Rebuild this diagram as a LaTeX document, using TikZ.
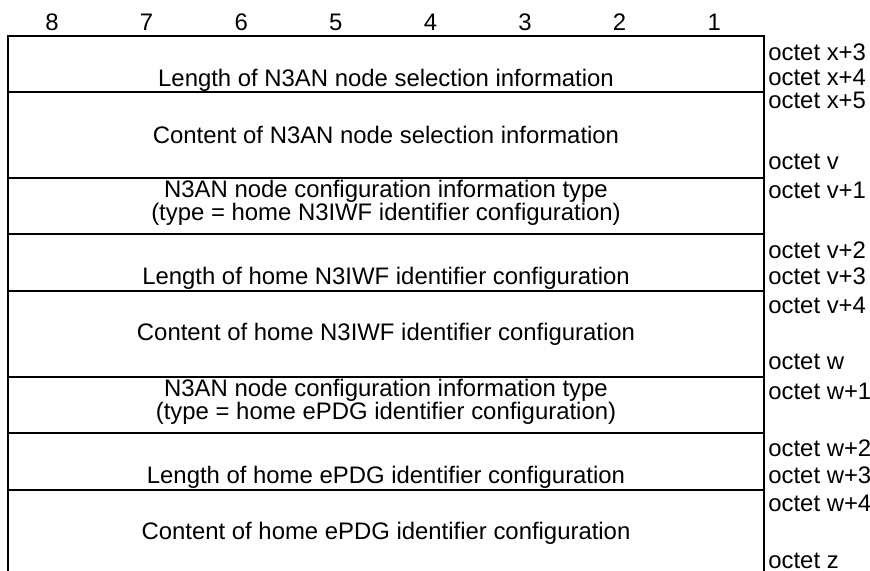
\documentclass[tikz,border=0pt]{standalone}
\usepackage{fontspec}
\setmainfont{Liberation Sans}
\usetikzlibrary{positioning}

\begin{document}
\begin{tikzpicture}[
  x=0.02cm, y=-0.02cm,
  every node/.style={font=\fontsize{13.6}{13.1}\selectfont, inner sep=0pt},
  bit/.style={anchor=base},
  field/.style={align=center},
  octet/.style={anchor=west, text height=1.6ex, text depth=0.3ex},
  rule/.style={line width=1.1pt},
]
  \useasboundingbox (0,0) rectangle (870,571);

  % bit numbers
  \foreach \b [count=\i] in {8,...,1}
    \node[bit] (bit\b) at ({52+94.6*(\i-1)},31) {\b};

  % frame and row separators (open at the bottom)
  \draw[rule] (8,571) -- (8,36) -- (764,36) -- (764,571);
  \foreach \y in {92,178,234,291,377,433,490}
    \draw[rule] (8,\y) -- (764,\y);

  % fields
  \node[field] (lenN3AN)   at (386,80)  {Length of N3AN node selection information};
  \node[field] (conN3AN)   at (386,135) {Content of N3AN node selection information};
  \node[field] (typeN3IWF) at (386,203) {N3AN node configuration information type\\(type = home N3IWF identifier configuration)};
  \node[field] (lenN3IWF)  at (386,278) {Length of home N3IWF identifier configuration};
  \node[field] (conN3IWF)  at (386,334) {Content of home N3IWF identifier configuration};
  \node[field] (typeEPDG)  at (386,402) {N3AN node configuration information type\\(type = home ePDG identifier configuration)};
  \node[field] (lenEPDG)   at (386,477) {Length of home ePDG identifier configuration};
  \node[field] (conEPDG)   at (386,533) {Content of home ePDG identifier configuration};

  % octet labels
  \node[octet] (oxiii) at (768,54)  {octet x+3};
  \node[octet] (oxiv)  at (768,79)  {octet x+4};
  \node[octet] (oxv)   at (768,102) {octet x+5};
  \node[octet] (ov)    at (768,163) {octet v};
  \node[octet] (ovi)   at (768,192) {octet v+1};
  \node[octet] (ovii)  at (768,252) {octet v+2};
  \node[octet] (oviii) at (768,278) {octet v+3};
  \node[octet] (oviv)  at (768,307) {octet v+4};
  \node[octet] (ow)    at (768,363) {octet w};
  \node[octet] (owi)   at (768,393) {octet w+1};
  \node[octet] (owii)  at (768,450) {octet w+2};
  \node[octet] (owiii) at (768,477) {octet w+3};
  \node[octet] (owiv)  at (768,505) {octet w+4};
  \node[octet] (oz)    at (768,562) {octet z};
\end{tikzpicture}
\end{document}
